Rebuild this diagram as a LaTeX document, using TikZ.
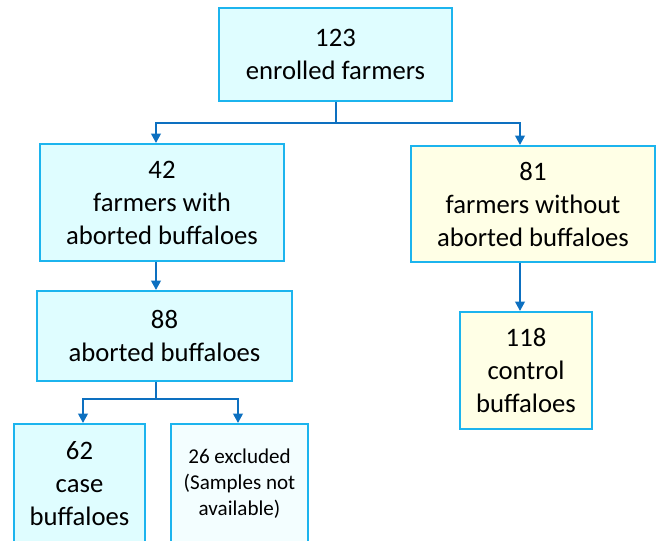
\documentclass[tikz,border=0pt]{standalone}
\usepackage{fontspec}
\setmainfont{Carlito}
\usetikzlibrary{arrows.meta}
\definecolor{rim}{HTML}{1CB4EE}
\definecolor{caseFill}{HTML}{DFFDFF}
\definecolor{ctrlFill}{HTML}{FFFFE6}
\definecolor{outFill}{HTML}{F3FEFF}
\definecolor{flow}{HTML}{0D70C0}
\begin{document}
\begin{tikzpicture}[x=0.75pt, y=-0.75pt,
    font=\fontsize{20}{24.75}\selectfont,
    box/.style={draw=rim, line width=1.4pt, fill=caseFill, align=center, inner sep=0pt},
    ctrl/.style={box, fill=ctrlFill},
    skip/.style={box, fill=outFill, font=\fontsize{15.8}{19.5}\selectfont},
    link/.style={flow, line width=1.7pt},
    feed/.style={link, -{Triangle[width=7pt,length=7pt]}}]

  \useasboundingbox (0,0) rectangle (656,541);

  % top: all farmers
  \node[box, minimum width=174.75pt, minimum height=69.75pt] (all) at (335.5,54.5) {123\\enrolled farmers};

  % left branch: farmers with abortions
  \node[box, minimum width=183pt, minimum height=87.75pt] (with) at (162,202.5) {42\\farmers with\\aborted buffaloes};
  \node[box, minimum width=191.25pt, minimum height=67.5pt] (abort) at (164.5,336) {88\\aborted buffaloes};
  \node[box, minimum width=98.25pt, minimum height=89.25pt] (cases) at (79.5,483.5) {62\\case\\buffaloes};
  \node[skip, minimum width=102.75pt, minimum height=89.25pt] (excl) at (239.5,483.5) {26 excluded\\(Samples not\\available)};

  % right branch: farmers without abortions
  \node[ctrl, minimum width=183pt, minimum height=87pt] (without) at (533,204) {81\\farmers without\\aborted buffaloes};
  \node[ctrl, minimum width=99pt, minimum height=87.75pt] (control) at (526,370.5) {118\\control\\buffaloes};

  % split points and arrow columns
  \coordinate (split1) at (336,123);
  \coordinate (split2) at (156,399);
  \coordinate (colL) at (156,0);
  \coordinate (colR) at (520,0);
  \coordinate (colA) at (83,0);
  \coordinate (colB) at (238,0);

  % arrows
  \draw[link] (all.south -| split1) -- (split1);
  \draw[feed] (split1) -| (colL |- with.north);
  \draw[feed] (split1) -| (colR |- without.north);
  \draw[feed] (colL |- with.south) -- (colL |- abort.north);
  \draw[feed] (colR |- without.south) -- (colR |- control.north);
  \draw[link] (colL |- abort.south) -- (split2);
  \draw[feed] (split2) -| (colA |- cases.north);
  \draw[feed] (split2) -| (colB |- excl.north);
\end{tikzpicture}
\end{document}
